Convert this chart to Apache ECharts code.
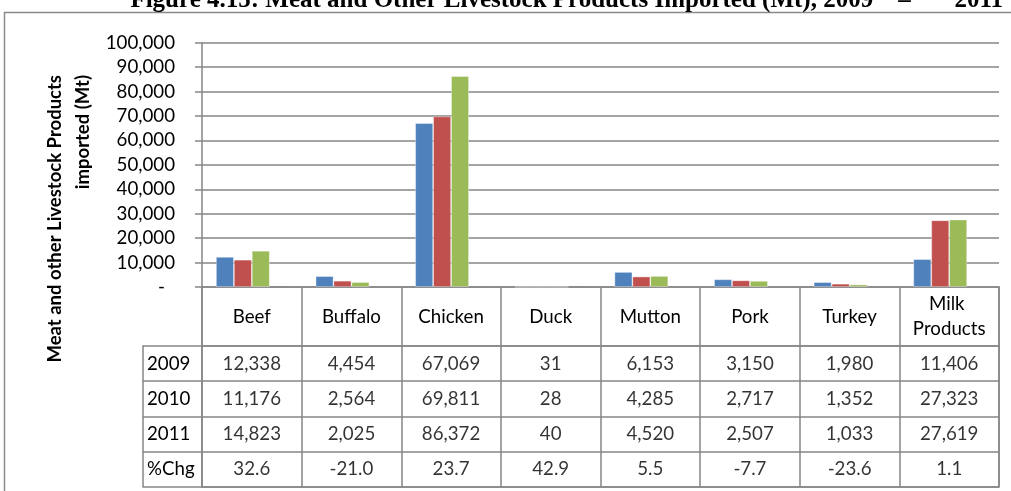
<!DOCTYPE html>
<html>
<head>
<meta charset="utf-8">
<script src="https://cdn.jsdelivr.net/npm/echarts@6/dist/echarts.min.js"></script>
<style>
  html, body { margin: 0; padding: 0; background: #fff; }
  #chart { width: 1011px; height: 491px; }
</style>
</head>
<body>
<div id="chart"></div>
<script>
// Meat and other livestock products imported (Mt), 2009-2011
const categories = ['Beef', 'Buffalo', 'Chicken', 'Duck', 'Mutton', 'Pork', 'Turkey', 'Milk Products'];
const rowLabels = ['2009', '2010', '2011', '%Chg'];
const imports2009 = [12338, 4454, 67069, 31, 6153, 3150, 1980, 11406];
const imports2010 = [11176, 2564, 69811, 28, 4285, 2717, 1352, 27323];
const imports2011 = [14823, 2025, 86372, 40, 4520, 2507, 1033, 27619];
const pctChange = [32.6, -21.0, 23.7, 42.9, 5.5, -7.7, -23.6, 1.1];
const yMin = 0, yMax = 100000, yStep = 10000;

const titleText = 'Figure 4.15: Meat and Other Livestock Products Imported (Mt), 2009\u00a0\u00a0\u00a0\u00a0\u2013\u00a0\u00a0\u00a0\u00a0\u00a0\u00a0\u00a02011';
const axisTitle = 'Meat and other Livestock Products\nimported (Mt)';

const seriesRows = [imports2009, imports2010, imports2011, pctChange];
const seriesColors = ['#4F81BD', '#C0504D', '#9BBB59', '#8064A2'];

const FONT = 'Lato';
const FS = 18.7;
const LINE = { color: '#868686', width: 1.5 };

const fmtCell = (row, v) => row === 3 ? v.toFixed(1) : v.toLocaleString('en-US');

// Table cells: one label per (category, row)
const cellData = [];
seriesRows.forEach((vals, r) => {
  vals.forEach((v, c) => cellData.push({ value: [c, r], cell: fmtCell(r, v) }));
});

const chart = echarts.init(document.getElementById('chart'), null, { renderer: 'canvas' });

chart.setOption({
  animation: false,
  backgroundColor: '#ffffff',
  textStyle: { fontFamily: FONT },
  grid: [
    { left: 202, right: 12, top: 42.7, height: 244.3 },   // bars
    { left: 202, right: 12, top: 287, height: 59 },       // table header
    { left: 202, right: 12, top: 346, height: 140.7 }     // table rows
  ],
  xAxis: [
    {
      gridIndex: 0, type: 'category', data: categories,
      axisLine: { show: true, lineStyle: LINE },
      axisTick: { show: false }, axisLabel: { show: false }, splitLine: { show: false }
    },
    {
      gridIndex: 1, type: 'category', data: categories, position: 'bottom',
      axisLine: { show: true, lineStyle: LINE },
      axisTick: { show: false },
      axisLabel: {
        inside: true, margin: 29.5, verticalAlign: 'middle', interval: 0,
        width: 95, overflow: 'break', lineHeight: 25,
        fontFamily: FONT, fontSize: FS, color: '#000'
      },
      splitLine: { show: true, lineStyle: LINE }
    },
    {
      gridIndex: 2, type: 'category', data: categories,
      axisLine: { show: true, lineStyle: LINE },
      axisTick: { show: false }, axisLabel: { show: false },
      splitLine: { show: true, lineStyle: LINE }
    }
  ],
  yAxis: [
    {
      gridIndex: 0, type: 'value', min: yMin, max: yMax, interval: yStep,
      axisLine: { show: true, lineStyle: LINE },
      axisTick: { show: true, length: 7, lineStyle: LINE },
      splitLine: { show: true, lineStyle: LINE },
      axisLabel: {
        margin: 27, fontFamily: FONT, fontSize: FS, color: '#000',
        formatter: v => v === 0 ? '{d|-}' : v.toLocaleString('en-US'),
        rich: { d: { fontFamily: FONT, fontSize: FS, color: '#000', padding: [0, 10, 0, 0] } }
      }
    },
    {
      gridIndex: 1, type: 'value', min: 0, max: 1,
      axisLine: { show: true, lineStyle: LINE },
      axisTick: { show: false }, axisLabel: { show: false }, splitLine: { show: false }
    },
    {
      gridIndex: 1, type: 'value', min: 0, max: 1, position: 'right',
      axisLine: { show: true, lineStyle: LINE },
      axisTick: { show: false }, axisLabel: { show: false }, splitLine: { show: false }
    },
    {
      gridIndex: 2, type: 'category', data: rowLabels, inverse: true,
      axisLine: { show: true, lineStyle: LINE },
      axisTick: { show: true, length: 59.3, lineStyle: LINE },
      axisLabel: { align: 'left', margin: 55, fontFamily: FONT, fontSize: FS, color: '#000' },
      splitLine: { show: true, lineStyle: LINE }
    },
    {
      gridIndex: 2, type: 'category', data: rowLabels, inverse: true, position: 'left', offset: 59.3,
      axisLine: { show: true, lineStyle: LINE },
      axisTick: { show: false }, axisLabel: { show: false }, splitLine: { show: false }
    },
    {
      gridIndex: 2, type: 'category', data: rowLabels, inverse: true, position: 'right',
      axisLine: { show: true, lineStyle: LINE },
      axisTick: { show: false }, axisLabel: { show: false }, splitLine: { show: false }
    }
  ],
  series: [
    ...seriesRows.map((vals, i) => ({
      type: 'bar', name: rowLabels[i], xAxisIndex: 0, yAxisIndex: 0,
      data: vals, barGap: '0%', barCategoryGap: '28%',
      itemStyle: i < 3
        ? { color: seriesColors[i], borderColor: 'rgba(255,255,255,0.45)', borderWidth: 0.8 }
        : { color: seriesColors[i], borderWidth: 0 }
    })),
    {
      type: 'scatter', xAxisIndex: 2, yAxisIndex: 3,
      data: cellData, symbolSize: 1,
      itemStyle: { color: 'transparent' },
      label: {
        show: true, position: 'inside', fontFamily: FONT, fontSize: FS, color: '#000',
        formatter: p => p.data.cell
      },
      silent: true
    }
  ],
  graphic: [
    {
      type: 'rect', z: 100, silent: true,
      shape: { x: 4.5, y: 12.5, width: 1030, height: 500 },
      style: { fill: 'none', stroke: '#8a8a8a', lineWidth: 1.5 }
    },
    {
      type: 'text', z: 100, silent: true, x: 1003, y: 13,
      style: {
        text: titleText, font: 'bold 25px "Liberation Serif"',
        fill: '#000', align: 'right', verticalAlign: 'bottom'
      }
    },
    {
      type: 'text', z: 100, silent: true, x: 69, y: 75, rotation: Math.PI / 2,
      style: {
        text: axisTitle, fontFamily: FONT, fontWeight: 'bold', fontSize: 18.5,
        lineHeight: 28, fill: '#000', align: 'right', verticalAlign: 'middle'
      }
    }
  ]
});
</script>
</body>
</html>
